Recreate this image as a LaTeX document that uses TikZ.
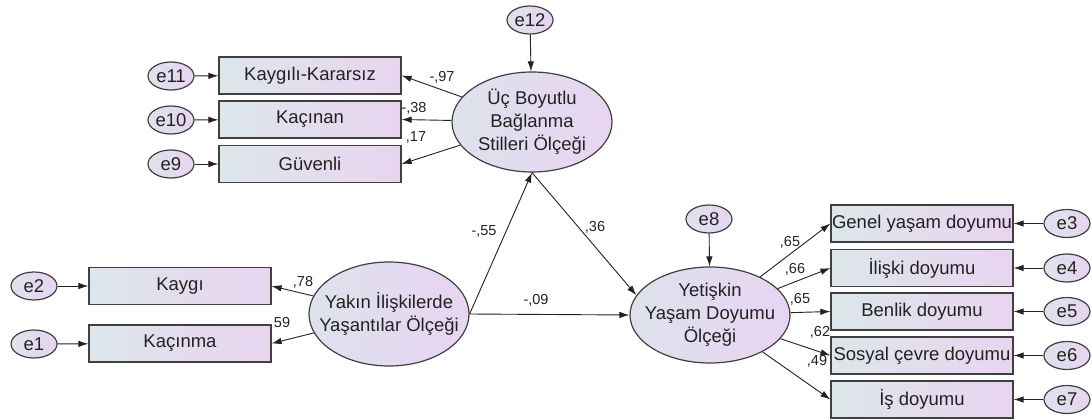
\documentclass[tikz,border=0pt]{standalone}
\usepackage{fontspec}
\setmainfont{Liberation Sans}
\usepackage{tikz}
\usetikzlibrary{positioning,calc}
\usetikzlibrary{shapes.geometric,arrows.meta}
\definecolor{boxleft}{RGB}{221,230,234}
\definecolor{boxright}{RGB}{233,212,240}
\definecolor{ellleft}{RGB}{222,226,236}
\definecolor{ellright}{RGB}{232,212,242}
\definecolor{edge}{RGB}{64,64,64}
\definecolor{ink}{RGB}{34,34,34}
\tikzset{
  observed/.style={draw=edge,line width=1.2pt,left color=boxleft,right color=boxright,minimum width=182pt,minimum height=37pt,inner sep=1pt,text=ink,font=\fontsize{18.5}{22}\selectfont},
  latent/.style={ellipse,draw=edge,line width=1.2pt,left color=ellleft,right color=ellright,minimum width=160pt,minimum height=100pt,inner xsep=-14pt,inner ysep=0pt,align=center,text=ink,font=\fontsize{18.5}{23}\selectfont},
  error/.style={ellipse,draw=edge,line width=1.2pt,left color=ellleft,right color=ellright,minimum width=46pt,minimum height=28pt,inner sep=0pt,text=ink,font=\fontsize{18.5}{22}\selectfont},
  coef/.style={inner sep=0pt,text=ink,font=\fontsize{14.5}{16}\selectfont},
  path/.style={draw=ink,line width=0.9pt,-{Latex[length=10pt,width=6.5pt]}}
}

\begin{document}
\begin{tikzpicture}[x=1pt,y=-1pt]
    \useasboundingbox [fill=white] (0,0) rectangle (1092,420);

    \node (attach) [latent] at (532,122) {Üç Boyutlu\\Bağlanma\\Stilleri Ölçeği};
    \node (e12) [error] at (530,20) {e12};
    \node (anxious) [observed] at (310,75.5) {Kaygılı-Kararsız};
    \node (avoidant) [observed] at (310,119.5) {Kaçınan};
    \node (secure) [observed] at (310,164) {Güvenli};
    \node (e11) [error] at (171,76) {e11};
    \node (e10) [error] at (171,120) {e10};
    \node (e9) [error] at (171,164) {e9};

    \node (close) [latent,minimum height=104pt] at (389,314) {Yakın İlişkilerde\\Yaşantılar Ölçeği};
    \node (anxiety) [observed] at (180,286) {Kaygı};
    \node (avoidance) [observed] at (180,343.5) {Kaçınma};
    \node (e2) [error] at (34,286) {e2};
    \node (e1) [error] at (34,344) {e1};

    \node (adult) [latent,minimum height=96pt] at (710,315) {Yetişkin\\Yaşam Doyumu\\Ölçeği};
    \node (e8) [error] at (709,219) {e8};
    \node (general) [observed] at (922,223.5) {Genel yaşam doyumu};
    \node (relation) [observed] at (922,268) {İlişki doyumu};
    \node (self) [observed] at (922,311.5) {Benlik doyumu};
    \node (social) [observed] at (922,355.5) {Sosyal çevre doyumu};
    \node (work) [observed] at (922,399.5) {İş doyumu};
    \node (e3) [error] at (1067,223.5) {e3};
    \node (e4) [error] at (1067,268) {e4};
    \node (e5) [error] at (1067,311.5) {e5};
    \node (e6) [error] at (1067,355.5) {e6};
    \node (e7) [error] at (1067,399.5) {e7};

    \draw [path] (e12) -- (attach);
    \draw [path] (attach) -- (anxious.east);
    \draw [path] (attach) -- (avoidant.east);
    \draw [path] (attach) -- (secure.east);
    \draw [path] (e11) -- (anxious);
    \draw [path] (e10) -- (avoidant);
    \draw [path] (e9) -- (secure);

    \draw [path] (close) -- (anxiety.east);
    \draw [path] (close) -- (avoidance.east);
    \draw [path] (e2) -- (anxiety);
    \draw [path] (e1) -- (avoidance);

    \draw [path] (close.east) -- (attach.south);
    \draw [path] (attach.south) -- (adult.165);
    \draw [path] (close.east) -- (adult.west);

    \draw [path] (e8) -- (adult);
    \draw [path] (adult) -- (general.west);
    \draw [path] (adult) -- (relation.west);
    \draw [path] (adult) -- (self.west);
    \draw [path] (adult) -- (social.west);
    \draw [path] (adult) -- (work.west);
    \draw [path] (e3) -- (general);
    \draw [path] (e4) -- (relation);
    \draw [path] (e5) -- (self);
    \draw [path] (e6) -- (social);
    \draw [path] (e7) -- (work);

    \node (c97) [coef] at (442,77) {-,97};
    \node (c38) [coef] at (414,108) {-,38};
    \node (c17) [coef] at (416,137) {,17};
    \node (c78) [coef] at (303,282) {,78};
    \node (c59) [coef] at (282,323) {59};
    \node (c55) [coef] at (484,231) {-,55};
    \node (c36) [coef] at (595,227) {,36};
    \node (c09) [coef] at (536,300) {-,09};
    \node (c65a) [coef] at (790,242) {,65};
    \node (c66) [coef] at (795,269) {,66};
    \node (c65b) [coef] at (800,299) {,65};
    \node (c62) [coef] at (820,332) {,62};
    \node (c49) [coef] at (817,361) {,49};
\end{tikzpicture}
\end{document}
